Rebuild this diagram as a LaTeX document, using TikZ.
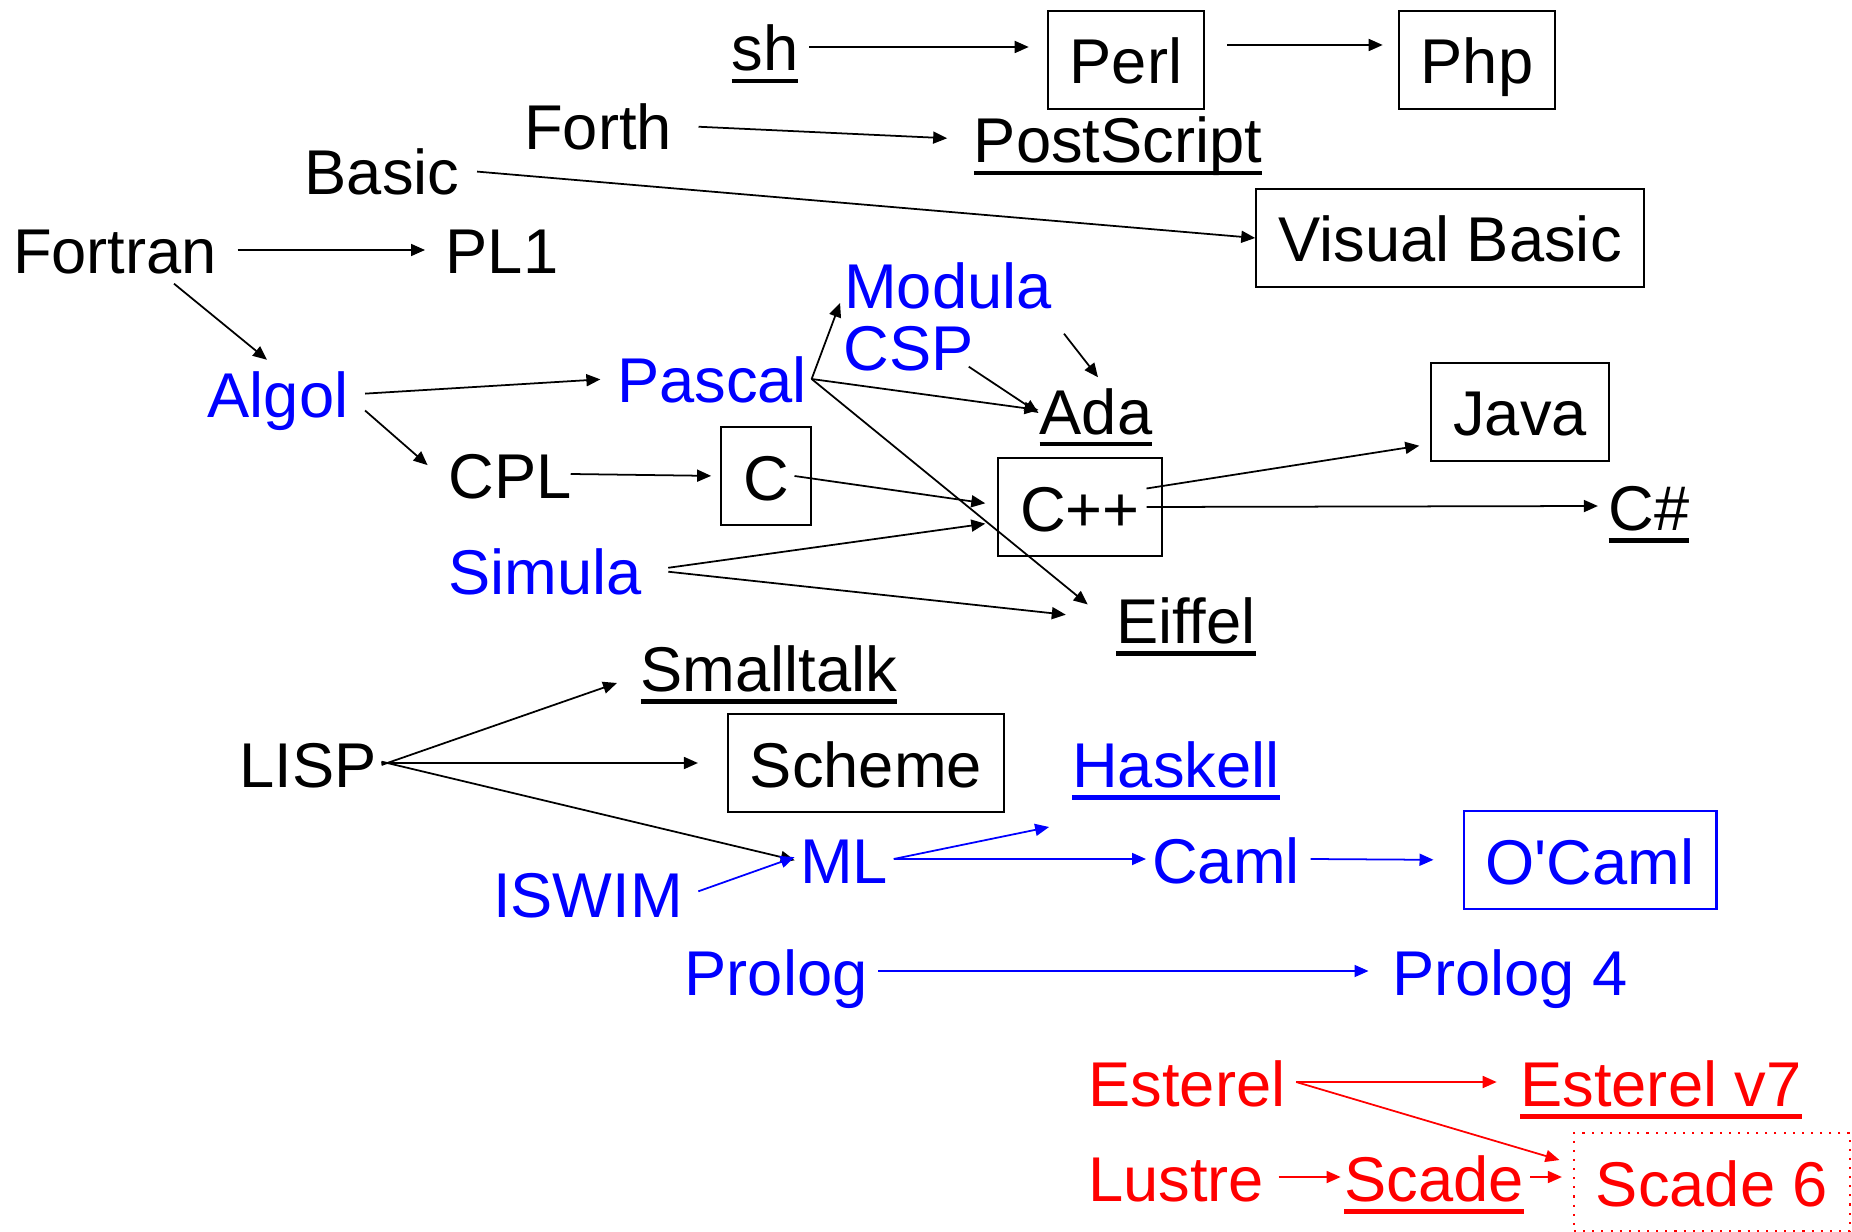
\documentclass[tikz,border=0pt]{standalone}
\usepackage{fontspec}
\setmainfont{Liberation Sans}
\newfontfamily\plainf{Liberation Sans}
\usetikzlibrary{arrows.meta}
\definecolor{pblue}{RGB}{0,0,255}
\definecolor{pred}{RGB}{255,0,0}
\newcommand\undl[1]{\setbox0\hbox{#1}\rlap{\vrule height -0.8mm depth 1.25mm width \wd0}\box0}

\begin{document}
\begin{tikzpicture}[x=0.1mm,y=-0.1mm,font=\fontsize{18}{21}\selectfont,
  >={Triangle[length=1.4mm,width=1.2mm]},
  lang/.style={inner xsep=1mm,inner ysep=0pt,text height=4.8mm,text depth=0mm,anchor=base},
  langbox/.style={draw,line width=0.6pt,inner xsep=2.2mm,inner ysep=0pt,minimum height=9.8mm,text height=4.8mm,text depth=0mm},
  every edge/.append style={->}]
\useasboundingbox (0,0) rectangle (1852,1232);

% top rows
\node[lang] (sh) at (765,71) {\undl{sh}};
\node[langbox] (perl) at (1126,60) {Perl};
\node[langbox] (php) at (1477,60) {Php};
\node[lang] (forth) at (598,150) {Forth};
\node[lang] (ps) at (1118,163) {\undl{PostScript}};
\node[lang] (basic) at (382,195) {Basic};
\node[langbox] (vb) at (1450,238) {Visual Basic};
\node[lang] (fortran) at (115,274) {Fortran};
\node[lang] (pl1) at (502,274) {PL1};

% algol family
\node[lang,text=pblue] (modula) at (948,309) {Modula};
\node[lang,text=pblue] (csp) at (909,371) {CSP};
\node[lang,text=pblue] (algol) at (278,418) {Algol};
\node[lang,text=pblue] (pascal) at (712,403) {Pascal};
\node[lang] (ada) at (1096,434) {\undl{Ada}};
\node[langbox] (java) at (1520,412) {Java};
\node[lang] (cpl) at (510,498) {CPL};
\node[langbox] (cbox) at (766,476) {C};
\node[langbox] (cpp) at (1080,507) {C++};
\node[lang] (csharp) at (1649,530) {\undl{C\#}};
\node[lang,text=pblue] (simula) at (545,594) {Simula};
\node[lang] (eiffel) at (1186,643) {\undl{Eiffel}};

% lisp family
\node[lang] (smalltalk) at (769,691) {\undl{Smalltalk}};
\node[langbox] (scheme) at (866,763) {Scheme};
\node[lang] (lisp) at (308,787) {LISP};
\node[lang,text=pblue] (haskell) at (1176,787) {\undl{Haskell}};
\node[lang,text=pblue] (ml) at (844,883) {ML};
\node[lang,text=pblue] (iswim) at (588,917) {ISWIM};
\node[lang,text=pblue] (caml) at (1226,883) {Caml};
\node[langbox,draw=pblue,text=pblue] (ocaml) at (1590,860) {O{\plainf '}Caml};
\node[lang,text=pblue] (prolog) at (776,995) {Prolog};
\node[lang,text=pblue] (prolog4) at (1510,995) {Prolog 4};

% synchronous
\node[lang,text=pred] (esterel) at (1187,1106) {Esterel};
\node[lang,text=pred] (esterel7) at (1661,1106) {\undl{Esterel v7}};
\node[lang,text=pred] (lustre) at (1176,1201) {Lustre};
\node[lang,text=pred] (scade) at (1434,1201) {\undl{Scade}};
\node[langbox,draw=pred,dotted,text=pred] (scade6) at (1712,1182) {Scade 6};

\draw[line width=0.5pt]
(sh.east) edge[shorten >=1.8mm] (sh.east -| perl.west)
([yshift=1.5mm]perl.east) edge[shorten <=2.2mm,shorten >=1.5mm] ([yshift=1.5mm]php.west)
(forth.east) edge[shorten <=1.6mm,shorten >=1.6mm] (ps.west)
(basic.east) edge[shorten <=0.7mm] (vb.west)
(fortran.east) edge[shorten <=1mm,shorten >=1mm] (pl1.west)
([xshift=5.9mm,yshift=-0.9mm]fortran.south) edge ([xshift=-1.1mm,yshift=0.95mm]algol.north)
(algol.east) edge[shorten <=0.6mm,shorten >=0.6mm] (pascal.west)
([xshift=0.6mm,yshift=-1.65mm]algol.east) edge[shorten >=1.35mm] (cpl.west)
([xshift=-0.6mm]pascal.east) edge ([xshift=0.65mm,yshift=0.6mm]modula.base west)
([xshift=-0.6mm]pascal.east) edge ([xshift=0.95mm]ada.west)
([xshift=-0.6mm]pascal.east) edge[shorten >=2.3mm] (eiffel.west)
([xshift=11.6mm,yshift=-2.4mm]modula.south) edge ([xshift=0.2mm,yshift=0.8mm]ada.north)
([xshift=-1.6mm,yshift=0.5mm]csp.south east) edge ([xshift=0.95mm,yshift=-0.3mm]ada.west)
([xshift=-1.15mm]cpl.east) edge[shorten >=0.9mm] (cbox.west)
([xshift=2.85mm]cbox.center) edge[shorten >=1.2mm] ([yshift=0.2mm]cpp.west)
(simula.east) edge[shorten <=1.6mm,shorten >=1.2mm] ([yshift=-1.5mm]cpp.west)
(simula.east) edge[shorten <=1.6mm,shorten >=4mm] (eiffel.west)
([xshift=6.65mm,yshift=1.85mm]cpp.center) edge[shorten >=1.1mm] ([yshift=-3.2mm]java.west)
([xshift=6.65mm]cpp.center) edge (csharp.west)
(lisp.east) edge[shorten <=-0.6mm] ([xshift=-1.3mm,yshift=0.8mm]smalltalk.base west)
(lisp.east) edge[shorten <=-0.6mm,shorten >=2.9mm] (scheme.west)
(lisp.east) edge[shorten <=-0.6mm,shorten >=-0.55mm] (ml.west)
;

\draw[line width=0.5pt,pblue]
(iswim.east) edge[shorten <=0.5mm,shorten >=-0.55mm] (ml.west)
([xshift=-0.5mm]ml.east) edge ([xshift=-1.25mm,yshift=-4mm]haskell.base west)
([xshift=-0.5mm]ml.east) edge[shorten >=-0.45mm] (caml.west)
(caml.east) edge[shorten >=2.9mm] (ocaml.west)
(prolog.east) edge[shorten >=1.3mm] (prolog4.west)
;

\draw[line width=0.5pt,pred]
(esterel.east) edge[shorten >=1.3mm] (esterel7.west)
(esterel.east) edge[shorten >=1.4mm] ([yshift=1.8mm]scade6.west)
(lustre.east) edge[shorten <=0.4mm,shorten >=-0.7mm] (scade.west)
([xshift=-0.4mm]scade.east) edge[shorten >=1.1mm] (scade.east -| scade6.west)
;

\end{tikzpicture}
\end{document}
